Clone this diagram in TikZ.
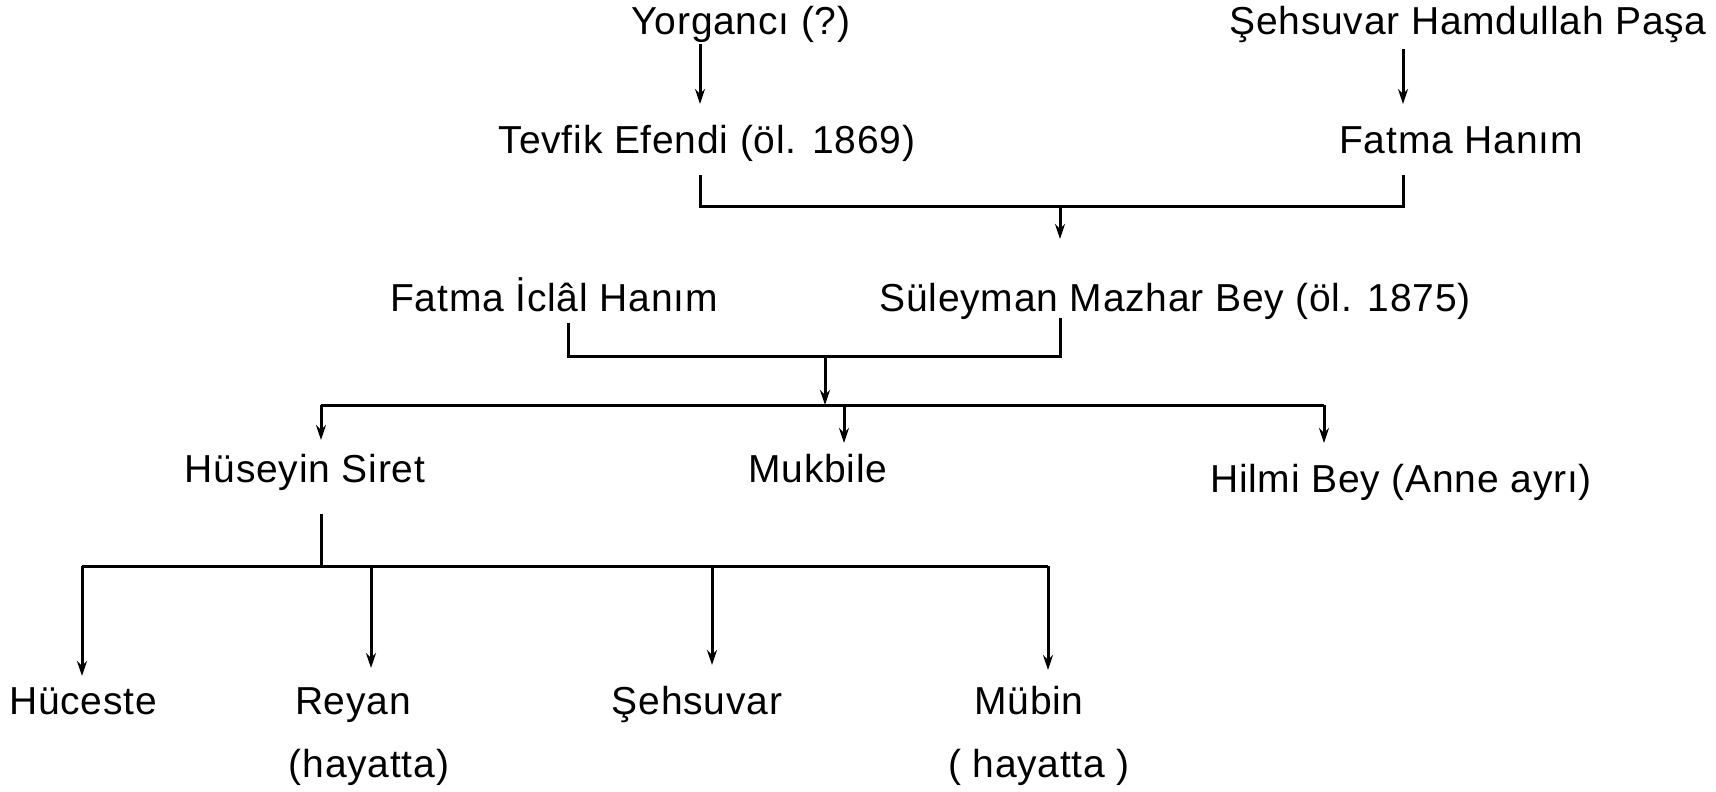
\documentclass[tikz,border=0pt]{standalone}
\usepackage{fontspec}
\setmainfont{Liberation Sans}[LetterSpace=2]
\usetikzlibrary{arrows.meta}
\begin{document}
\begin{tikzpicture}[x=1pt,y=-1pt,
  lbl/.style={anchor=base,inner sep=0pt,font=\fontsize{39}{44}\selectfont},
  ln/.style={line width=3pt},
  arr/.style={ln,-{Stealth[length=15pt,width=10pt]}}]
\useasboundingbox[fill=white] (0,0) rectangle (1716,792);
% people
\node[lbl] (yorg) at (741,35) {Yorgancı (?)};
\node[lbl] (sehp) at (1468,35) {Şehsuvar Hamdullah Paşa};
\node[lbl] (tevfik) at (707,153) {Tevfik Efendi (öl. 1869)};
\node[lbl] (fatma) at (1461,153) {Fatma Hanım};
\node[lbl] (iclal) at (554,311) {Fatma İclâl Hanım};
\node[lbl] (suley) at (1175,311) {Süleyman Mazhar Bey (öl. 1875)};
\node[lbl] (husey) at (305,482) {Hüseyin Siret};
\node[lbl] (mukb) at (818,482) {Mukbile};
\node[lbl] (hilmi) at (1401,492) {Hilmi Bey (Anne ayrı)};
\node[lbl] (huce) at (83,714) {Hüceste};
\node[lbl] (reyan) at (353,714) {Reyan};
\node[lbl] (hay1) at (369,777) {(hayatta)};
\node[lbl] (sehs) at (697,714) {Şehsuvar};
\node[lbl] (mubin) at (1029,714) {Mübin};
\node[lbl] (hay2) at (1039,777) {( hayatta )};
% junction coordinates
\coordinate (y1) at (700,44);   \coordinate (y2) at (700,104);
\coordinate (s1) at (1403,49);  \coordinate (s2) at (1403,104);
\coordinate (t1) at (700,175);  \coordinate (f1) at (1403,175);
\coordinate (j1) at (1060,206); \coordinate (j1b) at (1060,239);
\coordinate (i1) at (568,323);  \coordinate (m1) at (1060,318);
\coordinate (j2) at (825,356);  \coordinate (j2b) at (825,405);
\coordinate (b4l) at (321,405); \coordinate (b4r) at (1324,405);
\coordinate (k4a) at (321,440); \coordinate (k4b) at (844,443); \coordinate (k4c) at (1324,443);
\coordinate (h1) at (321,514);  \coordinate (j3) at (321,566);
\coordinate (b5l) at (82,566);  \coordinate (b5r) at (1048,566);
\coordinate (k5a) at (82,676);  \coordinate (k5b) at (371,668);
\coordinate (k5c) at (712,665); \coordinate (k5d) at (1048,670);
% connectors
\draw[arr] (y1) -- (y2);
\draw[arr] (s1) -- (s2);
\draw[ln] (t1) |- (j1) -| (f1);
\draw[arr] (j1) -- (j1b);
\draw[ln] (i1) |- (j2) -| (m1);
\draw[arr] (j2) -- (j2b);
\draw[ln] (b4l) -- (b4r);
\draw[arr] (b4l) -- (k4a);
\draw[arr] (k4b |- b4l) -- (k4b);
\draw[arr] (b4r) -- (k4c);
\draw[ln] (h1) -- (j3);
\draw[ln] (b5l) -- (b5r);
\draw[arr] (b5l) -- (k5a);
\draw[arr] (k5b |- b5l) -- (k5b);
\draw[arr] (k5c |- b5l) -- (k5c);
\draw[arr] (b5r) -- (k5d);
\end{tikzpicture}
\end{document}
